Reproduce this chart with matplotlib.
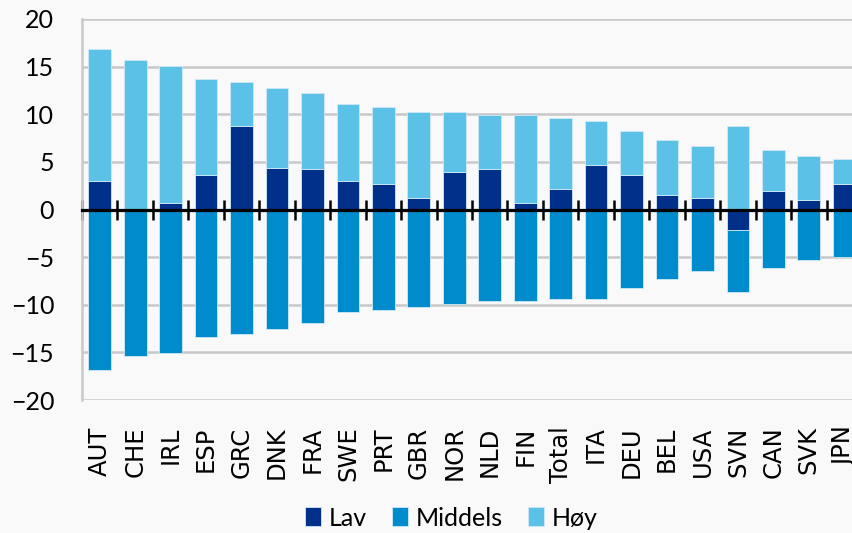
import numpy as np
import matplotlib.pyplot as plt

# Data
categories = ["AUT", "CHE", "IRL", "ESP", "GRC", "DNK", "FRA", "SWE", "PRT", "GBR", "NOR",
              "NLD", "FIN", "Total", "ITA", "DEU", "BEL", "USA", "SVN", "CAN", "SVK", "JPN"]
lav = [3.0, 0.0, 0.7, 3.6, 8.8, 4.4, 4.2, 3.0, 2.7, 1.2, 3.9,
       4.2, 0.7, 2.1, 4.7, 3.6, 1.5, 1.2, -2.1, 1.9, 1.0, 2.7]
middels = [-16.8, -15.4, -15.1, -13.4, -13.1, -12.5, -11.9, -10.8, -10.5, -10.2, -9.9,
           -9.6, -9.6, -9.4, -9.4, -8.2, -7.3, -6.5, -6.6, -6.1, -5.3, -5.0]
hoy = [13.8, 15.7, 14.4, 10.1, 4.6, 8.4, 8.0, 8.1, 8.1, 9.0, 6.3,
       5.7, 9.2, 7.5, 4.6, 4.6, 5.8, 5.5, 8.8, 4.3, 4.6, 2.6]
yticks = [-20, -15, -10, -5, 0, 5, 10, 15, 20]

c_lav = "#00308A"
c_mid = "#008BCD"
c_hoy = "#5BC1E6"
bg = "#F9F9F9"
grid_c = "#C8C8C8"

x = np.arange(len(categories))
lav_a = np.array(lav)
mid_bottom = np.minimum(lav_a, 0)
hoy_bottom = np.maximum(lav_a, 0)

fig = plt.figure(figsize=(8.53, 5.33), dpi=100, facecolor=bg)
# axes runs past the right edge, like the cropped reference
ax = fig.add_axes([82 / 853, 1 - 400 / 533, (862 - 82) / 853, (400 - 19) / 533])
ax.set_facecolor(bg)

w = 0.64
edge = dict(edgecolor="#CFE9F7", linewidth=0.6)
ax.bar(x, lav, w, color=c_lav, label="Lav", **edge)
ax.bar(x, middels, w, bottom=mid_bottom, color=c_mid, label="Middels", **edge)
ax.bar(x, hoy, w, bottom=hoy_bottom, color=c_hoy, label="Høy", **edge)

ax.set_xlim(-0.5, len(categories) - 0.5)
ax.set_ylim(-20, 20)
ax.set_yticks(yticks)
ax.yaxis.grid(True, color=grid_c, linewidth=1.8)
ax.set_axisbelow(True)
ax.tick_params(axis="y", length=0, pad=20, labelsize=18, labelfontfamily="Lato")

# zero line with tick marks between categories
ax.spines["bottom"].set_position(("data", 0))
ax.spines["bottom"].set_linewidth(2.3)
ax.spines["bottom"].set_color("black")
ax.set_xticks(np.arange(len(categories) + 1) - 0.5)
ax.tick_params(axis="x", direction="inout", length=15, width=1.8, color="black",
               labelbottom=False)
ax.spines["top"].set_visible(False)
ax.spines["right"].set_visible(False)
ax.spines["left"].set_color(grid_c)
ax.spines["left"].set_linewidth(1.8)

# category labels at the bottom of the plot
sec = ax.secondary_xaxis("bottom")
sec.set_xticks(x, labels=categories, rotation=90)
sec.tick_params(length=0, pad=19, labelsize=17.5)
sec.spines["bottom"].set_visible(False)

fig.legend(loc="center", bbox_to_anchor=(451 / 853, 15 / 533), ncol=3, frameon=False,
           prop={"family": "Lato", "size": 18}, handlelength=0.65, handleheight=0.8,
           handletextpad=0.3, columnspacing=1.0)

fig.savefig("out.png", dpi=100, facecolor=bg)
